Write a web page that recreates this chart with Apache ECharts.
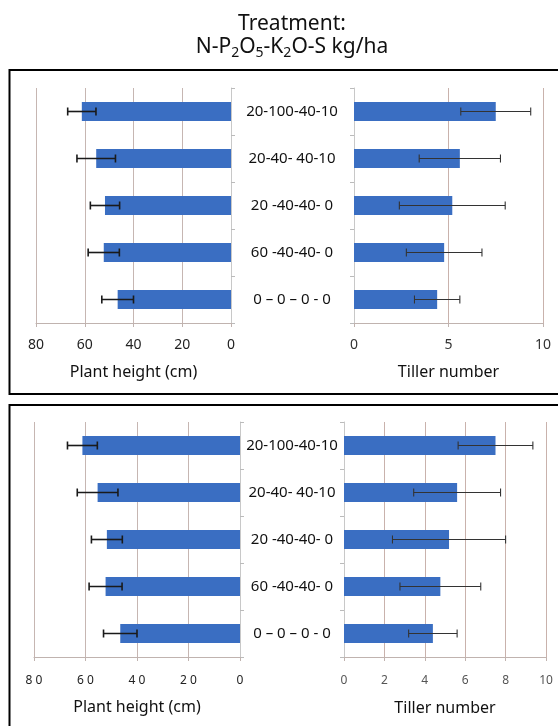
<!DOCTYPE html>
<html><head><meta charset="utf-8">
<script src="https://cdn.jsdelivr.net/npm/echarts@6/dist/echarts.min.js"></script>
<style>html,body{margin:0;padding:0;background:#fff}#c{width:558px;height:726px}</style>
</head><body><div id="c"></div>
<script>
const categories = ['20-100-40-10', '20-40- 40-10', '20 -40-40- 0', '60 -40-40- 0', '0 \u2013 0 \u2013 0 - 0'];
const heightMean = [61.2, 55.3, 51.7, 52.2, 46.5];
const heightErr = [5.8, 7.9, 6.0, 6.4, 6.5];
const tillerMean = [7.5, 5.6, 5.2, 4.77, 4.4];
const tillerErr = [1.85, 2.15, 2.8, 2.0, 1.2];
const heightTicks = [0, 20, 40, 60, 80];
const tillerTicksTop = [0, 5, 10];
const tillerTicksBottom = [0, 2, 4, 6, 8, 10];

const FONT = 'Noto Sans';
const BAR = '#3a6ec2';
const GRIDC = '#c6b6b2';

function errData(mean, err) {
  return mean.map((m, i) => [i, m - err[i], m + err[i]]);
}
function errRender(lw, cap, color) {
  return function (params, api) {
    const idx = api.value(0), lo = api.value(1), hi = api.value(2);
    const p1 = api.coord([lo, idx]), p2 = api.coord([hi, idx]);
    const h = cap / 2;
    const st = { stroke: color, lineWidth: lw };
    return { type: 'group', children: [
      { type: 'line', shape: { x1: p1[0], y1: p1[1], x2: p2[0], y2: p2[1] }, style: st },
      { type: 'line', shape: { x1: p1[0], y1: p1[1] - h, x2: p1[0], y2: p1[1] + h }, style: st },
      { type: 'line', shape: { x1: p2[0], y1: p2[1] - h, x2: p2[0], y2: p2[1] + h }, style: st }
    ]};
  };
}
function valAxis(gi, ticks, opts) {
  return Object.assign({
    type: 'value', gridIndex: gi,
    min: ticks[0], max: ticks[ticks.length - 1], interval: ticks[1] - ticks[0],
    axisLine: { show: true, lineStyle: { color: '#c0b3af', width: 1 } },
    axisTick: { show: true, length: 4, lineStyle: { color: '#c0b3af' } },
    splitLine: { show: true, lineStyle: { color: GRIDC, width: 1 } },
    nameLocation: 'middle',
    nameTextStyle: { fontFamily: FONT, fontSize: 16, color: '#111' }
  }, opts);
}
function catAxis(gi, opts) {
  return Object.assign({
    type: 'category', gridIndex: gi, data: categories, inverse: true,
    axisLine: { show: true, lineStyle: { color: '#c8c8c8' } },
    axisTick: { show: true, length: 4, lineStyle: { color: '#bbbbbb' } },
    splitLine: { show: false }
  }, opts);
}

const chart = echarts.init(document.getElementById('c'), null, { renderer: 'canvas' });
chart.setOption({
  backgroundColor: '#fff',
  animation: false,
  title: [
    { text: 'Treatment:', left: 287, top: 6, textAlign: 'center',
      textStyle: { fontFamily: FONT, fontSize: 21, fontWeight: 'normal', color: '#111', lineHeight: 26 } },
    { text: '{a|N-P}{b|2}{a|O}{b|5}{a|-K}{b|2}{a|O-S kg/ha}', left: 287, top: 29, textAlign: 'center',
      textStyle: { fontFamily: FONT, fontSize: 21, fontWeight: 'normal', color: '#111',
        rich: {
          a: { fontFamily: FONT, fontSize: 21, fontWeight: 'normal', color: '#111', lineHeight: 26 },
          b: { fontFamily: FONT, fontSize: 14, fontWeight: 'normal', color: '#111', lineHeight: 15, verticalAlign: 'bottom' }
        } } }
  ],
  grid: [
    { left: 36, top: 88, width: 195, height: 235 },
    { left: 354, top: 88, width: 189, height: 235 },
    { left: 34, top: 422, width: 206, height: 235 },
    { left: 344, top: 422, width: 202, height: 235 }
  ],
  xAxis: [
    valAxis(0, heightTicks, { inverse: true, name: 'Plant height (cm)', nameGap: 41,
      axisLabel: { fontFamily: FONT, fontSize: 14, color: '#222', margin: 15 } }),
    valAxis(1, tillerTicksTop, { name: 'Tiller number', nameGap: 41,
      splitLine: { show: true, lineStyle: { color: '#c9b2ac' } },
      axisLabel: { fontFamily: FONT, fontSize: 14, color: '#333', margin: 15 } }),
    valAxis(2, heightTicks, { inverse: true, name: 'Plant height (cm)', nameGap: 42,
      axisLabel: { fontFamily: FONT, fontSize: 12, color: '#222', margin: 18,
        formatter: v => String(v).split('').join(' ') } }),
    valAxis(3, tillerTicksBottom, { name: 'Tiller number', nameGap: 43,
      splitLine: { show: true, lineStyle: { color: '#c9b2ac' } },
      axisLabel: { fontFamily: FONT, fontSize: 12, color: '#555', margin: 18 } })
  ],
  yAxis: [
    catAxis(0, { position: 'right', axisLabel: { show: false } }),
    catAxis(1, { position: 'left', axisLabel: { align: 'center', margin: 62, fontFamily: FONT, fontSize: 15, color: '#111' } }),
    catAxis(2, { position: 'right', axisLabel: { show: false } }),
    catAxis(3, { position: 'left', axisLabel: { align: 'center', margin: 52, fontFamily: FONT, fontSize: 15, color: '#111' } })
  ],
  series: [
    { type: 'bar', xAxisIndex: 0, yAxisIndex: 0, data: heightMean, barWidth: 19, itemStyle: { color: BAR } },
    { type: 'bar', xAxisIndex: 1, yAxisIndex: 1, data: tillerMean, barWidth: 19, itemStyle: { color: BAR } },
    { type: 'bar', xAxisIndex: 2, yAxisIndex: 2, data: heightMean, barWidth: 19, itemStyle: { color: BAR } },
    { type: 'bar', xAxisIndex: 3, yAxisIndex: 3, data: tillerMean, barWidth: 19, itemStyle: { color: BAR } },
    { type: 'custom', xAxisIndex: 0, yAxisIndex: 0, data: errData(heightMean, heightErr), encode: { x: [1, 2], y: 0 }, renderItem: errRender(1.6, 8, '#1a1a1a'), z: 5 },
    { type: 'custom', xAxisIndex: 1, yAxisIndex: 1, data: errData(tillerMean, tillerErr), encode: { x: [1, 2], y: 0 }, renderItem: errRender(1.1, 8, '#333'), z: 5 },
    { type: 'custom', xAxisIndex: 2, yAxisIndex: 2, data: errData(heightMean, heightErr), encode: { x: [1, 2], y: 0 }, renderItem: errRender(1.6, 8, '#1a1a1a'), z: 5 },
    { type: 'custom', xAxisIndex: 3, yAxisIndex: 3, data: errData(tillerMean, tillerErr), encode: { x: [1, 2], y: 0 }, renderItem: errRender(1.1, 8, '#333'), z: 5 }
  ],
  graphic: [
    { type: 'rect', shape: { x: 9.5, y: 70, width: 560, height: 324 }, style: { fill: 'none', stroke: '#000', lineWidth: 2 }, z: 100 },
    { type: 'rect', shape: { x: 9.5, y: 405, width: 560, height: 340 }, style: { fill: 'none', stroke: '#000', lineWidth: 2 }, z: 100 }
  ]
});
</script>
</body></html>
